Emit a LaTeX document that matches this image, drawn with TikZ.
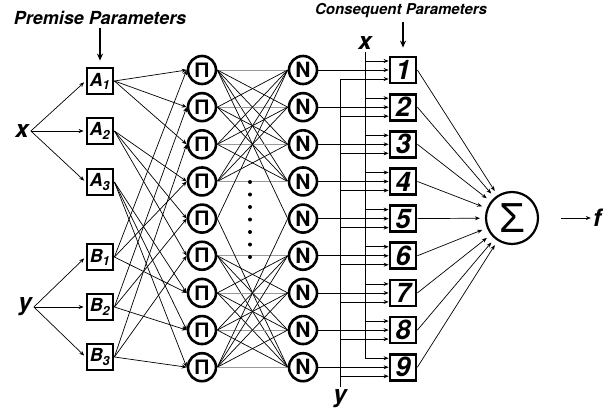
\documentclass[tikz,border=0pt]{standalone}
\usepackage{fontspec}
\setmainfont{TeX Gyre Heros}
\newfontfamily\greekFont{Liberation Sans}
\usepackage{tikz}
\usetikzlibrary{positioning,arrows.meta}
\tikzstyle{network} = [x = 1pt, y = -1pt]
\tikzstyle{premiseBox} = [draw, line width=2.8pt, minimum size=26pt, inner sep=0pt, font=\fontsize{18}{18}\selectfont\bfseries\itshape]
\tikzstyle{ruleNode} = [draw, circle, line width=2.6pt, minimum size=28pt, inner sep=0pt]
\tikzstyle{productNode} = [ruleNode, font=\greekFont\fontsize{21}{21}\selectfont\bfseries]
\tikzstyle{normNode} = [ruleNode, font=\fontsize{21}{21}\selectfont\bfseries]
\tikzstyle{consequentBox} = [draw, line width=2.8pt, minimum size=26pt, inner sep=0pt, font=\fontsize{27}{27}\selectfont\bfseries\itshape]
\tikzstyle{sumNode} = [draw, circle, line width=2.2pt, minimum size=52pt, inner sep=0pt, font=\greekFont\fontsize{42}{42}\selectfont]
\tikzstyle{inputLabel} = [inner sep=2pt, font=\fontsize{24}{24}\selectfont\bfseries\itshape]
\tikzstyle{premiseTitleStyle} = [font=\fontsize{18}{18}\selectfont\bfseries\itshape]
\tikzstyle{consequentTitleStyle} = [font=\fontsize{15}{15}\selectfont\bfseries\itshape]
\tikzstyle{link} = [line width=0.7pt, -{Stealth[length=5pt, width=4pt]}]
\tikzstyle{plainLink} = [line width=0.7pt]
\tikzstyle{faintLink} = [line width=0.7pt, color=black!40]
\tikzstyle{titleArrow} = [line width=1.3pt, -{Stealth[length=7pt, width=6pt]}]
\newcommand{\rowStep}{37.15}
\newcommand{\ruleLink}[2]{\draw [plainLink] (prod#1.east) -- (norm#2.west);}
\newcommand{\ruleGroup}[2]{
  \foreach \from in {#1,...,#2} {
    \foreach \to in {#1,...,#2} {
      \ifnum\from=\to
        \draw [faintLink] (prod\from.east) -- (norm\to.west);
      \else
        \ruleLink{\from}{\to}
      \fi
    }
  }
}
\begin{document}
\begin{tikzpicture}[network]
\useasboundingbox (0,0) rectangle (609,418);
\node [premiseTitleStyle] (premiseTitle) at (100,18) {Premise Parameters};
\node [consequentTitleStyle] (consequentTitle) at (401,11) {Consequent Parameters};
\node [inputLabel] (inX) at (22,131) {x};
\node [inputLabel] (inY) at (25,307) {y};
\foreach \j/\rowPos in {1/81,2/131,3/182} \node [premiseBox] (premA\j) at (100,\rowPos) {A\textsubscript{\j}};
\foreach \k/\rowPos in {1/257,2/307,3/357} \node [premiseBox] (premB\k) at (100,\rowPos) {B\textsubscript{\k}};
\foreach \i in {1,...,9} {
  \pgfmathsetmacro{\rowY}{70 + \rowStep * (\i - 1)}
  \node [productNode] (prod\i) at (202,\rowY) {Π};
  \node [normNode] (norm\i) at (303,\rowY) {N};
  \node [consequentBox] (cons\i) at (403,\rowY) {\i};
  \coordinate (xIn\i) at ([yshift=9pt]cons\i.west);
  \coordinate (yIn\i) at ([yshift=-9pt]cons\i.west);
}
\node [sumNode] (sum) at (512,218) {Σ};
\node [inputLabel] (outF) at (597,218) {f};
\coordinate (sumOut) at (561,218);
\node [inputLabel, anchor=south] (xBus) at (365,52) {x};
\node [inputLabel, anchor=north] (yBus) at (340,387) {y};
% titles
\draw [titleArrow, shorten >=6pt] (premiseTitle.south -| premA1.north) -- (premA1.north);
\draw [titleArrow, shorten >=8pt] (consequentTitle.south -| cons1.north) -- (cons1.north);
% layer 1
\foreach \j in {1,2,3} {
  \draw [link, shorten >=2pt] (inX.east) -- (premA\j.west);
  \draw [link, shorten >=2pt] (inY.east) -- (premB\j.west);
}
% layer 2
\foreach \j in {1,2,3} {
  \foreach \k in {1,2,3} {
    \pgfmathtruncatemacro{\ruleNum}{3 * (\j - 1) + \k}
    \draw [link] (premA\j.east) -- (prod\ruleNum.west);
    \draw [link] (premB\k.east) -- (prod\ruleNum.west);
  }
}
% layer 3
\ruleGroup{1}{4}
\ruleGroup{6}{9}
\ruleLink{1}{5} \ruleLink{5}{1} \ruleLink{5}{9} \ruleLink{9}{5}
\foreach \d in {0,...,6} \fill (250,{182 + 12.5 * \d}) circle (2pt);
% layer 4
\draw [plainLink] (xBus.south) -- (xBus.south |- xIn9);
\draw [plainLink] (yBus.north |- yIn1) -- (yBus.north);
\foreach \i in {1,...,9} {
  \draw [link] (norm\i.east) -- (cons\i.west);
  \draw [link] (xBus.south |- xIn\i) -- (xIn\i);
  \draw [link] (yBus.north |- yIn\i) -- (yIn\i);
  \draw [link, shorten >=5pt] (cons\i.east) -- (sum);
}
% output
\draw [link] (sumOut) -- (outF.west);
\end{tikzpicture}
\end{document}
